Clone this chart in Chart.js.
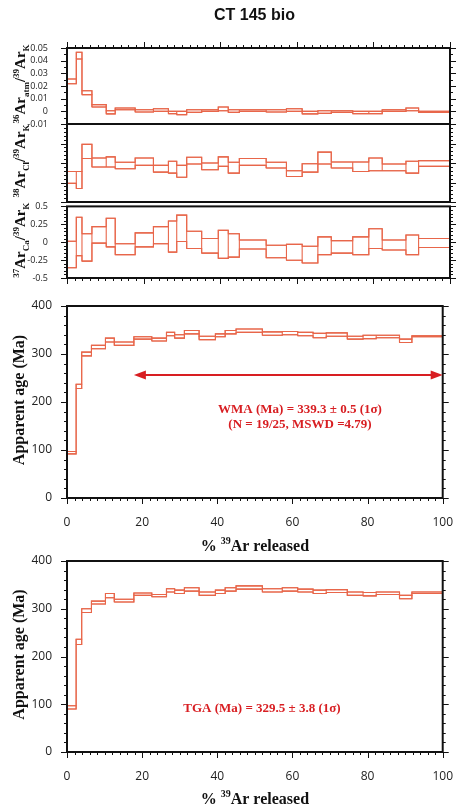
<!DOCTYPE html>
<html>
<head>
<meta charset="utf-8">
<script src="https://cdn.jsdelivr.net/npm/chart.js@4.4.0/dist/chart.umd.min.js"></script>
<style>
  body { margin: 0; background: #fff; width: 462px; height: 810px; position: relative; overflow: hidden; }
  .box { position: absolute; left: 0; width: 462px; }
</style>
</head>
<body>
<div class="box" style="top:0;height:150px"><canvas id="c1"></canvas></div>
<div class="box" style="top:110px;height:110px"><canvas id="c2"></canvas></div>
<div class="box" style="top:190px;height:110px"><canvas id="c3"></canvas></div>
<div class="box" style="top:285px;height:275px"><canvas id="c4"></canvas></div>
<div class="box" style="top:540px;height:270px"><canvas id="c5"></canvas></div>
<script>
// cumulative % 39Ar released at the step boundaries (25 steps)
const stepEdges = [0, 2.43, 3.91, 6.51, 10.24, 12.59, 17.8, 22.57, 26.48, 28.65, 31.25, 35.16, 39.5, 42.1, 45.0, 52.0, 57.3, 61.4, 65.5, 69.0, 74.6, 78.8, 82.3, 88.5, 91.8, 100];

// 36Ar(atm)/39Ar(K), upper / lower edge of each step
const atmHi = [0.0255, 0.0466, 0.0163, 0.0053, 0.0005, 0.0026, 0.0013, 0.0020, 0.0000, 0.0000, 0.0013, 0.0013, 0.0034, 0.0013, 0.0013, 0.0013, 0.0020, 0.0000, 0.0005, 0.0005, 0.0000, 0.0000, 0.0013, 0.0026, 0.0000];
const atmLo = [0.0218, 0.0413, 0.0132, 0.0034, -0.0020, 0.0013, -0.0005, 0.0000, -0.0018, -0.0026, -0.0008, 0.0000, 0.0005, -0.0008, 0.0000, -0.0005, 0.0000, -0.0020, -0.0016, -0.0008, -0.0018, -0.0018, 0.0000, 0.0005, -0.0008];

// 38Ar(Cl)/39Ar(K)
const clHi = [0.891, 0.891, 1.239, 1.065, 1.078, 1.009, 1.065, 0.970, 1.022, 0.970, 1.074, 1.000, 1.078, 1.009, 1.057, 1.009, 0.900, 0.991, 1.139, 1.013, 1.013, 1.065, 0.987, 1.022, 1.030];
const clLo = [0.739, 0.674, 1.057, 0.948, 0.948, 0.926, 0.970, 0.883, 0.870, 0.817, 0.987, 0.913, 0.957, 0.870, 0.970, 0.935, 0.826, 0.883, 0.987, 0.935, 0.891, 0.900, 0.900, 0.870, 0.957];

// 37Ar(Ca)/39Ar(K)
const caHi = [0.013, 0.348, 0.117, 0.217, 0.335, -0.022, 0.130, 0.217, 0.296, 0.378, 0.152, 0.052, 0.165, 0.117, 0.030, -0.043, -0.030, -0.057, 0.074, 0.022, 0.074, 0.187, 0.030, 0.100, 0.052];
const caLo = [-0.357, -0.187, -0.265, -0.013, -0.065, -0.174, -0.065, -0.022, -0.139, 0.009, -0.087, -0.152, -0.226, -0.209, -0.096, -0.217, -0.252, -0.291, -0.174, -0.152, -0.174, -0.087, -0.109, -0.174, -0.074];

// apparent age (Ma), plateau spectrum
const ageHi = [97, 237, 304, 318, 333, 325, 336, 333, 345, 340, 349, 337, 342, 349, 352, 346, 347, 345, 343, 344, 337, 339, 339, 331, 338];
const ageLo = [92, 228, 296, 311, 325, 318, 331, 327, 338, 333, 342, 330, 336, 342, 345, 339, 340, 338, 334, 337, 331, 332, 334, 324, 336];

// apparent age (Ma), total gas spectrum
const tgaHi = [97, 236, 300, 316, 332, 320, 333, 330, 342, 339, 344, 335, 339, 344, 348, 342, 344, 341, 339, 340, 335, 334, 335, 328, 335];
const tgaLo = [90, 225, 292, 310, 323, 314, 328, 325, 335, 332, 337, 328, 332, 337, 341, 335, 337, 335, 332, 334, 328, 327, 330, 321, 332];

// tick labels
const xTicks = [0, 20, 40, 60, 80, 100];
const atmTicks = [-0.01, 0, 0.01, 0.02, 0.03, 0.04, 0.05];
const caTicks = [-0.5, -0.25, 0, 0.25, 0.5];
const ageTicks = [0, 100, 200, 300, 400];

// plateau (steps 7..25) and arrow level
const plateauFirstStep = 6;
const plateauArrowAge = 256;

const boxColor = '#e8664a';
const red = '#d81e22';
const serif = '"Liberation Serif", "Times New Roman", serif';

// closed rectangle for each step
function boxPoints(hi, lo) {
  const pts = [];
  for (let i = 0; i < hi.length; i++) {
    const x0 = stepEdges[i], x1 = stepEdges[i + 1];
    pts.push({ x: x0, y: lo[i] }, { x: x0, y: hi[i] }, { x: x1, y: hi[i] }, { x: x1, y: lo[i] }, { x: x0, y: lo[i] }, { x: x1, y: null });
  }
  return pts;
}

// continuous staircase through one edge of the steps
function stairPoints(vals) {
  return stepEdges.map((x, i) => ({ x, y: vals[Math.min(i, vals.length - 1)] }));
}

// text with ^{sup} and _{sub} parts
function parseRich(s) {
  const parts = [];
  const re = /(\^|_)\{([^}]*)\}|([^^_]+)/g;
  let m;
  while ((m = re.exec(s))) {
    if (m[3]) parts.push({ t: m[3], k: 0 });
    else parts.push({ t: m[2], k: m[1] === '^' ? 1 : -1 });
  }
  return parts;
}

function drawRich(ctx, str, x, y, o) {
  const parts = parseRich(str);
  const fam = o.family || serif;
  const fontOf = p => `${o.weight || 'bold'} ${p.k ? Math.round(o.size * 0.62) : o.size}px ${fam}`;
  ctx.save();
  ctx.translate(x, y);
  ctx.rotate(o.rot || 0);
  ctx.fillStyle = o.color || '#111';
  ctx.textBaseline = 'alphabetic';
  let w = 0;
  parts.forEach(p => { ctx.font = fontOf(p); p.w = ctx.measureText(p.t).width; w += p.w; });
  let cx = -w / 2;
  const base = o.size * 0.35;
  parts.forEach(p => {
    ctx.font = fontOf(p);
    const dy = p.k > 0 ? -o.size * 0.4 : p.k < 0 ? o.size * 0.22 : 0;
    ctx.fillText(p.t, cx, base + dy);
    cx += p.w;
  });
  ctx.restore();
}

function arrowHead(ctx, x, y, dir) {
  ctx.beginPath();
  ctx.moveTo(x, y);
  ctx.lineTo(x - dir * 12, y - 4.5);
  ctx.lineTo(x - dir * 12, y + 4.5);
  ctx.closePath();
  ctx.fill();
}

function makeChart(id, o) {
  const yScale = {
    min: o.yMin, max: o.yMax,
    afterFit: s => { s.width = 67; },
    grid: { display: false }, border: { display: false },
    ticks: {
      display: !!o.yTicks,
      autoSkip: false,
      font: { family: 'Open Sans', size: o.tickSize },
      color: '#222',
      padding: o.yPad,
      callback: v => String(+v.toFixed(2))
    }
  };
  if (o.yTicks) yScale.afterBuildTicks = s => { s.ticks = o.yTicks.map(v => ({ value: v })); };

  const line = { borderColor: boxColor, borderWidth: 1.1, pointRadius: 0, spanGaps: false, tension: 0, fill: false };

  return new Chart(document.getElementById(id), {
    type: 'line',
    data: {
      datasets: [
        { ...line, data: boxPoints(o.hi, o.lo) },
        { ...line, data: stairPoints(o.hi), stepped: true },
        { ...line, data: stairPoints(o.lo), stepped: true }
      ]
    },
    options: {
      responsive: true,
      maintainAspectRatio: false,
      animation: false,
      layout: { padding: { top: o.padTop, bottom: o.padBottom, left: 0, right: 12 } },
      plugins: { legend: { display: false }, tooltip: { enabled: false } },
      scales: {
        x: {
          type: 'linear', min: 0, max: 100,
          display: !!o.xLabels,
          afterBuildTicks: s => { s.ticks = xTicks.map(v => ({ value: v })); },
          afterFit: s => { s.height = o.xLabels ? 30 : 0; },
          grid: { display: false }, border: { display: false },
          ticks: { font: { family: 'Open Sans', size: 12 }, color: '#222', padding: 9, maxRotation: 0 }
        },
        y: yScale
      }
    },
    plugins: [{
      id: 'deco_' + id,
      afterDatasetsDraw(chart) {
        const { ctx, chartArea: a, scales: { x, y } } = chart;
        ctx.save();
        ctx.strokeStyle = '#111';
        ctx.lineWidth = 1;
        const seg = (x1, y1, x2, y2) => { ctx.beginPath(); ctx.moveTo(x1, y1); ctx.lineTo(x2, y2); ctx.stroke(); };
        const n = Math.round((o.yMax - o.yMin) / o.yMinor);
        for (let i = 0; i <= n; i++) {
          const v = o.yMin + i * o.yMinor;
          const py = Math.round(y.getPixelForValue(v)) + 0.5;
          const major = Math.abs(v / o.yMajor - Math.round(v / o.yMajor)) < 1e-6;
          const len = major ? 6 : 3;
          seg(a.left - len, py, a.left, py);
          seg(a.right, py, a.right + len, py);
        }
        if (o.xSide) {
          const edge = o.xSide === 'top' ? a.top : a.bottom;
          const dir = o.xSide === 'top' ? -1 : 1;
          for (let v = 0; v <= 100; v += 2) {
            const px = Math.round(x.getPixelForValue(v)) + 0.5;
            const len = v % 20 === 0 ? 6 : 3;
            seg(px, edge, px, edge + dir * len);
          }
        }
        ctx.lineWidth = 2;
        ctx.strokeRect(a.left, a.top, a.width, a.height);
        ctx.restore();
        if (o.draw) o.draw(chart, ctx);
      }
    }]
  });
}

const midY = c => (c.chartArea.top + c.chartArea.bottom) / 2;
const midX = c => (c.chartArea.left + c.chartArea.right) / 2;
const up = -Math.PI / 2;

makeChart('c1', {
  hi: atmHi, lo: atmLo, yMin: -0.01, yMax: 0.05, yMinor: 0.005, yMajor: 0.01,
  yTicks: atmTicks, tickSize: 9, yPad: 11, padTop: 48, padBottom: 26, xSide: 'top',
  draw(c, ctx) {
    ctx.save();
    ctx.font = 'bold 16px "Liberation Sans", Arial, sans-serif';
    ctx.fillStyle = '#111';
    ctx.textAlign = 'center';
    ctx.textBaseline = 'middle';
    ctx.fillText('CT 145 bio', midX(c) - 4, 16);
    ctx.restore();
    drawRich(ctx, '^{36}Ar_{atm}/^{39}Ar_{K}', 20, midY(c) - 2, { size: 15, rot: up });
  }
});

makeChart('c2', {
  hi: clHi, lo: clLo, yMin: 0.5, yMax: 1.5, yMinor: 0.05, yMajor: 0.25,
  yTicks: null, tickSize: 9, yPad: 11, padTop: 14, padBottom: 18, xSide: null,
  draw(c, ctx) {
    drawRich(ctx, '^{38}Ar_{Cl}/^{39}Ar_{K}', 20, midY(c) - 2, { size: 15, rot: up });
  }
});

makeChart('c3', {
  hi: caHi, lo: caLo, yMin: -0.5, yMax: 0.5, yMinor: 0.05, yMajor: 0.25,
  yTicks: caTicks, tickSize: 9, yPad: 11, padTop: 12, padBottom: 22, xSide: 'bottom',
  draw(c, ctx) {
    drawRich(ctx, '^{37}Ar_{Ca}/^{39}Ar_{K}', 20, midY(c) - 2, { size: 15, rot: up });
  }
});

makeChart('c4', {
  hi: ageHi, lo: ageLo, yMin: 0, yMax: 400, yMinor: 20, yMajor: 100,
  yTicks: ageTicks, tickSize: 12, yPad: 7, padTop: 21, padBottom: 32, xSide: 'bottom', xLabels: true,
  draw(c, ctx) {
    const { x, y } = c.scales;
    drawRich(ctx, 'Apparent age (Ma)', 18, midY(c) - 2, { size: 16, rot: up });
    drawRich(ctx, '% ^{39}Ar released', midX(c), 260, { size: 16 });
    // plateau arrow
    const x0 = x.getPixelForValue(stepEdges[plateauFirstStep]);
    const x1 = x.getPixelForValue(100);
    const py = y.getPixelForValue(plateauArrowAge);
    ctx.save();
    ctx.strokeStyle = red;
    ctx.fillStyle = red;
    ctx.lineWidth = 2;
    ctx.beginPath();
    ctx.moveTo(x0 + 6, py);
    ctx.lineTo(x1 - 6, py);
    ctx.stroke();
    arrowHead(ctx, x0, py, -1);
    arrowHead(ctx, x1, py, 1);
    ctx.restore();
    drawRich(ctx, 'WMA (Ma) = 339.3 ± 0.5 (1σ)', 300, 123, { size: 13, color: red });
    drawRich(ctx, '(N = 19/25, MSWD =4.79)', 300, 138, { size: 13, color: red });
  }
});

makeChart('c5', {
  hi: tgaHi, lo: tgaLo, yMin: 0, yMax: 400, yMinor: 20, yMajor: 100,
  yTicks: ageTicks, tickSize: 12, yPad: 7, padTop: 21, padBottom: 28, xSide: 'bottom', xLabels: true,
  draw(c, ctx) {
    drawRich(ctx, 'Apparent age (Ma)', 18, midY(c) - 2, { size: 16, rot: up });
    drawRich(ctx, '% ^{39}Ar released', midX(c), 258, { size: 16 });
    drawRich(ctx, 'TGA (Ma) = 329.5 ± 3.8 (1σ)', 262, 167, { size: 13, color: red });
  }
});
</script>
</body>
</html>
